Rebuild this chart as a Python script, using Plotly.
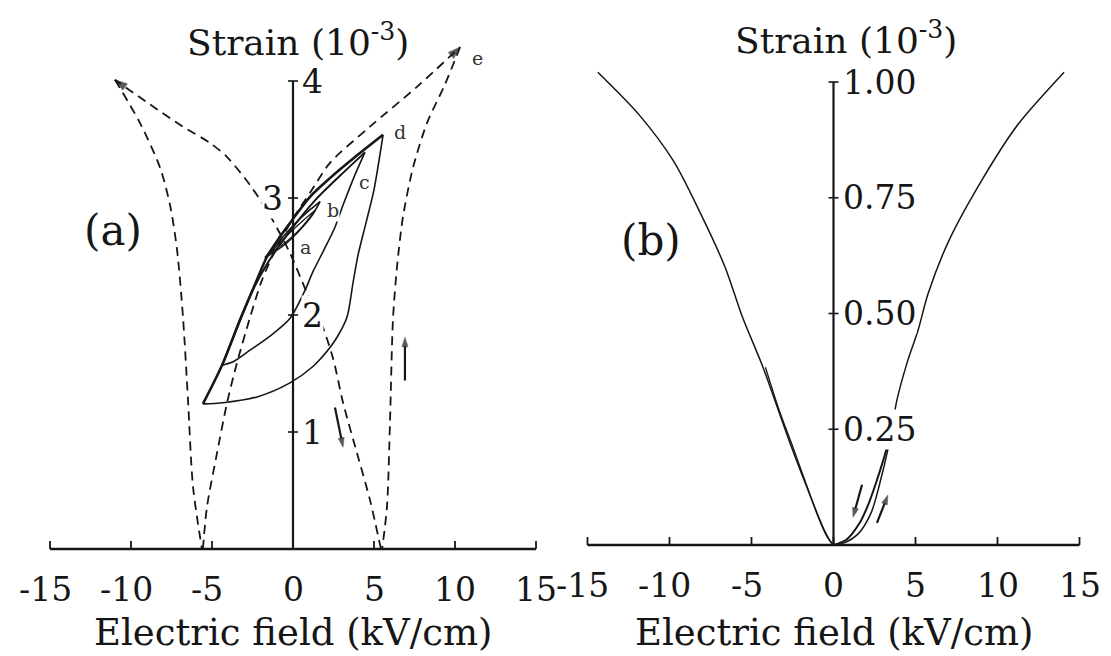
import plotly.graph_objects as go

FONT = "DejaVu Serif"
INK = "#161616"

# ---------------- panel (a) data ----------------
xa_ticks = [-15, -10, -5, 0, 5, 10, 15]
xa_labels = ["-15", "-10", "-5", "0", "5", "10", "15"]
ya_ticks = [1, 2, 3, 4]
ya_labels = ["1", "2", "3", "4"]
ya_side = ["right", "right", "left", "right"]

# dashed butterfly (curve e)
e_outer_left_x = [-10.99, -9.44, -8.21, -7.59, -7.16, -6.79, -6.48, -6.17, -5.62]
e_outer_left_y = [4.01, 3.64, 3.26, 2.94, 2.56, 1.98, 1.27, 0.53, 0.0]
e_rise_x = [-5.56, -5.31, -4.69, -4.07, -3.46, -2.65, -1.91, -0.93, 0.12, 1.17, 2.28, 4.75, 7.65, 10.31]
e_rise_y = [0.0, 0.36, 0.82, 1.25, 1.59, 1.98, 2.30, 2.60, 2.85, 3.07, 3.30, 3.61, 3.95, 4.29]
e_outer_right_x = [10.31, 9.38, 8.27, 7.41, 6.79, 6.42, 6.17, 5.99, 5.80, 5.50]
e_outer_right_y = [4.29, 3.97, 3.64, 3.26, 2.84, 2.41, 1.96, 1.10, 0.36, 0.0]
e_fall_x = [5.43, 4.75, 3.95, 3.09, 2.47, 1.67, 0.86, -0.19, -1.42, -2.65, -4.07, -5.12, -6.79, -8.83, -10.99]
e_fall_y = [0.0, 0.42, 0.82, 1.25, 1.63, 1.96, 2.19, 2.53, 2.85, 3.11, 3.35, 3.47, 3.61, 3.80, 4.01]

# solid minor loops
cd_up_x = [-5.56, -4.38, -3.27, -2.35, -1.60, -0.80, -0.06, 1.05, 2.28, 3.83, 5.56]
cd_up_y = [1.24, 1.57, 1.96, 2.26, 2.50, 2.67, 2.81, 3.01, 3.17, 3.35, 3.54]
cd_dn_x = [5.56, 5.31, 5.00, 4.51, 4.01, 3.70, 3.33, 2.72, 2.16, 1.23, -0.19, -2.22, -4.32, -5.56]
cd_dn_y = [3.54, 3.32, 3.07, 2.79, 2.51, 2.27, 1.98, 1.81, 1.70, 1.56, 1.42, 1.30, 1.25, 1.24]
b_up_x = [-4.38, -3.40, -2.53, -1.54, -0.06, 1.36, 2.90, 4.44]
b_up_y = [1.57, 1.91, 2.20, 2.45, 2.74, 2.98, 3.19, 3.39]
b_dn_x = [4.44, 3.83, 3.09, 2.59, 1.85, 1.23, 0.74, -0.19, -1.42, -2.65, -3.70, -4.38]
b_dn_y = [3.39, 3.20, 2.94, 2.75, 2.54, 2.37, 2.21, 1.97, 1.82, 1.70, 1.60, 1.57]
a_up_x = [-1.73, -0.80, 0.12, 1.05, 1.67]
a_up_y = [2.49, 2.64, 2.78, 2.90, 2.97]
a_dn_x = [1.67, 1.17, 0.31, -0.62, -1.73]
a_dn_y = [2.97, 2.85, 2.71, 2.59, 2.49]
a2_up_x = [-1.40, -0.50, 0.40, 1.40]
a2_up_y = [2.53, 2.66, 2.78, 2.90]
a2_dn_x = [1.40, 0.60, -0.30, -1.40]
a2_dn_y = [2.90, 2.76, 2.64, 2.53]

loop_letters = ["a", "b", "c", "d", "e"]
loop_letter_x = [0.80, 2.47, 4.44, 6.60, 11.40]
loop_letter_y = [2.58, 2.90, 3.14, 3.56, 4.20]

# direction arrows of panel (a): (tail x, tail y, head x, head y)
arrows_a = [(6.91, 1.44, 6.91, 1.81), (2.59, 1.21, 3.09, 0.87)]

# ---------------- panel (b) data ----------------
xb_ticks = [-15, -10, -5, 0, 5, 10, 15]
xb_labels = ["-15", "-10", "-5", "0", "5", "10", "15"]
yb_ticks = [0.25, 0.50, 0.75, 1.00]
yb_labels = ["0.25", "0.50", "0.75", "1.00"]

v_x = [-14.37, -11.85, -9.75, -8.08, -6.61, -5.56, -4.30, -2.62, -1.36, -0.52, 0.0,
       0.6, 1.5, 2.3, 2.8, 3.35, 3.88, 4.5, 5.14, 5.77, 7.03, 9.13, 11.22, 14.06]
v_y = [1.021, 0.929, 0.829, 0.714, 0.600, 0.493, 0.384, 0.217, 0.101, 0.029, 0.0,
       0.004, 0.024, 0.070, 0.130, 0.212, 0.315, 0.395, 0.462, 0.543, 0.657, 0.793, 0.907, 1.021]
v_left_loop_x = [-4.15, -3.35, -2.50, -1.65, -0.95, -0.40, 0.0]
v_left_loop_y = [0.384, 0.295, 0.214, 0.130, 0.062, 0.018, 0.0]
v_right_loop_x = [0.0, 0.8, 1.6, 2.15, 2.6, 3.05, 3.45]
v_right_loop_y = [0.0, 0.012, 0.048, 0.090, 0.135, 0.185, 0.235]

# direction arrows of panel (b)
arrows_b = [(1.74, 0.130, 1.19, 0.060), (2.65, 0.048, 3.32, 0.108)]

# ---------------- geometry ----------------
W, H = 1111, 656
SPLIT = 563
A_X0, A_SX, A_Y0, A_SY = 293.0, 16.2, 549.0, 117.0
B_X0, B_SX, B_Y0, B_SY = 833.5, 16.4, 545.0, 463.0

fig = go.Figure()


def line(x, y, xa, ya, width=1.6, dash="solid", arrow=False, shape="spline", asize=13):
    n = len(x)
    marker = dict(size=0)
    mode = "lines"
    if arrow:
        mode = "lines+markers"
        marker = dict(size=[0] * (n - 1) + [asize], symbol="arrow", angleref="previous",
                      color=INK, line=dict(width=0.5, color=INK))
    fig.add_trace(go.Scatter(x=x, y=y, xaxis=xa, yaxis=ya, mode=mode,
                             line=dict(color=INK, width=width, dash=dash, shape=shape, smoothing=0.8),
                             marker=marker, hoverinfo="skip", showlegend=False))


DASH = "9px,6px"
line(e_outer_left_x, e_outer_left_y, "x", "y", 1.8, DASH)
line(e_rise_x, e_rise_y, "x", "y", 1.8, DASH, arrow=True)
line(e_outer_right_x, e_outer_right_y, "x", "y", 1.8, DASH)
line(e_fall_x, e_fall_y, "x", "y", 1.8, DASH, arrow=True)
line(cd_up_x, cd_up_y, "x", "y", 2.6)
line(cd_dn_x, cd_dn_y, "x", "y", 1.6)
line(b_up_x, b_up_y, "x", "y", 2.0)
line(b_dn_x, b_dn_y, "x", "y", 1.6)
line(a_up_x, a_up_y, "x", "y", 1.6)
line(a_dn_x, a_dn_y, "x", "y", 1.6)
line(a2_up_x, a2_up_y, "x", "y", 1.2)
line(a2_dn_x, a2_dn_y, "x", "y", 1.2)

line(v_x, v_y, "x2", "y2", 1.5)
line(v_left_loop_x, v_left_loop_y, "x2", "y2", 1.3)
line(v_right_loop_x, v_right_loop_y, "x2", "y2", 2.0)

for (tx, ty, hx, hy) in arrows_a:
    line([tx, hx], [ty, hy], "x", "y", 2.2, arrow=True, shape="linear", asize=10)
for (tx, ty, hx, hy) in arrows_b:
    line([tx, hx], [ty, hy], "x2", "y2", 2.2, arrow=True, shape="linear", asize=10)

shapes = []
annotations = []


def axes(xr, yr, xticks, xlabels, yticks, ylabels, sides, ytop, sx, sy, yt_len_px):
    # x axis line and upward ticks
    shapes.append(dict(type="line", xref=xr, yref=yr, x0=xticks[0], x1=xticks[-1], y0=0, y1=0,
                       line=dict(color=INK, width=2.4)))
    for t, lab in zip(xticks, xlabels):
        shapes.append(dict(type="line", xref=xr, yref=yr, x0=t, x1=t, y0=0, y1=8 / sy,
                           line=dict(color=INK, width=1.8)))
        annotations.append(dict(xref=xr, yref=yr, x=t, y=0, text=lab, showarrow=False,
                                xanchor="center", yanchor="top", yshift=-19,
                                xshift=-5 if lab.startswith("-") else 0,
                                font=dict(family=FONT, size=33, color=INK)))
    # y axis line with cap and ticks
    shapes.append(dict(type="line", xref=xr, yref=yr, x0=0, x1=0, y0=0, y1=ytop,
                       line=dict(color=INK, width=2.2)))
    for t, lab, side in zip(yticks, ylabels, sides):
        shapes.append(dict(type="line", xref=xr, yref=yr, x0=-yt_len_px / sx, x1=yt_len_px / sx, y0=t, y1=t,
                           line=dict(color=INK, width=1.6)))
        annotations.append(dict(xref=xr, yref=yr, x=0, y=t, text=lab, showarrow=False,
                                xanchor="left" if side == "right" else "right", yanchor="middle",
                                xshift=8 if side == "right" else -9, bgcolor="white", borderpad=0,
                                font=dict(family=FONT, size=33, color=INK)))


axes("x", "y", xa_ticks, xa_labels, ya_ticks, ya_labels, ya_side, 4, A_SX, A_SY, 5)
axes("x2", "y2", xb_ticks, xb_labels, yb_ticks, yb_labels, ["right"] * 4, 1.0, B_SX, B_SY, 5)

# titles
for xr, yr, ys, xs, yt in [("x", "y", (A_Y0 - 40) / A_SY, 5, (A_Y0 - 632) / A_SY),
                            ("x2", "y2", (B_Y0 - 38) / B_SY, 12, (B_Y0 - 632) / B_SY)]:
    annotations.append(dict(xref=xr, yref=yr, x=0, y=ys, xshift=xs, text="Strain (10<sup>-3</sup>)",
                            showarrow=False, xanchor="center", yanchor="middle",
                            font=dict(family=FONT, size=36, color=INK)))
    annotations.append(dict(xref=xr, yref=yr, x=0, y=yt, text="Electric field (kV/cm)",
                            showarrow=False, xanchor="center", yanchor="middle",
                            font=dict(family=FONT, size=37, color=INK)))

annotations.append(dict(xref="x", yref="y", x=(113 - A_X0) / A_SX, y=(A_Y0 - 230) / A_SY, text="(a)",
                        showarrow=False, font=dict(family=FONT, size=42, color=INK)))
annotations.append(dict(xref="x2", yref="y2", x=(651 - B_X0) / B_SX, y=(B_Y0 - 240) / B_SY, text="(b)",
                        showarrow=False, font=dict(family=FONT, size=42, color=INK)))

for lt, lx, ly in zip(loop_letters, loop_letter_x, loop_letter_y):
    annotations.append(dict(xref="x", yref="y", x=lx, y=ly, text=lt, showarrow=False,
                            bgcolor="white" if lt in ("b", "c") else "rgba(0,0,0,0)", borderpad=0,
                            font=dict(family=FONT, size=19, color="#333")))

fig.update_layout(
    width=W, height=H, margin=dict(l=0, r=0, t=0, b=0),
    paper_bgcolor="white", plot_bgcolor="white", showlegend=False, hovermode=False,
    xaxis=dict(domain=[0, SPLIT / W], range=[(0 - A_X0) / A_SX, (SPLIT - A_X0) / A_SX], visible=False),
    yaxis=dict(domain=[0, 1], range=[(A_Y0 - H) / A_SY, A_Y0 / A_SY], visible=False),
    xaxis2=dict(domain=[SPLIT / W, 1], range=[(SPLIT - B_X0) / B_SX, (W - B_X0) / B_SX], visible=False),
    yaxis2=dict(domain=[0, 1], range=[(B_Y0 - H) / B_SY, B_Y0 / B_SY], visible=False, anchor="x2"),
    shapes=shapes, annotations=annotations,
)
fig.update_traces(cliponaxis=False)

fig.write_html("out.html", config={"displayModeBar": False},
               post_script="document.body.style.margin='0';document.body.style.overflow='hidden';")
